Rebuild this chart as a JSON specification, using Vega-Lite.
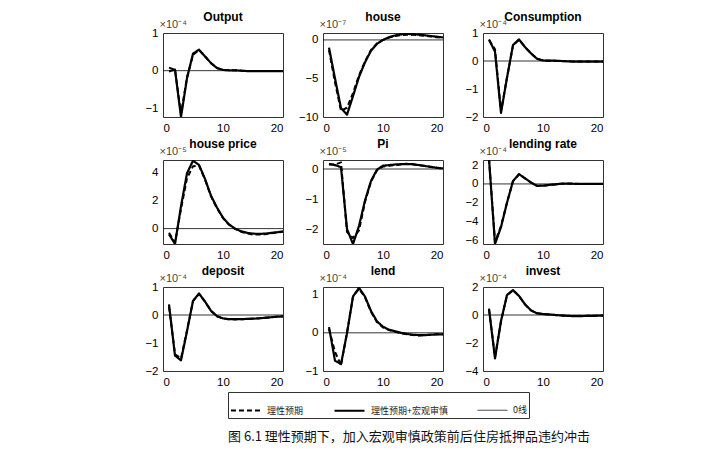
{
"$schema":"https://vega.github.io/schema/vega-lite/v6.json",
"padding":{"left":144,"top":10,"right":5,"bottom":5},
"background":"white",
"title":{"text":"图 6.1  理性预期下，加入宏观审慎政策前后住房抵押品违约冲击","orient":"bottom","anchor":"middle","font":"Noto Sans CJK SC","fontSize":13,"fontWeight":"normal","color":"#111","offset":12,"dx":35},
"data":{"values":[
{"p":"Output","t":0,"z":0},
{"p":"Output","t":1,"a":0.08,"b":-0.02},{"p":"Output","t":2,"a":0.02,"b":0.03},{"p":"Output","t":3,"a":-1.15,"b":-1.23},{"p":"Output","t":4,"a":-0.18,"b":-0.2},{"p":"Output","t":5,"a":0.42,"b":0.45},{"p":"Output","t":6,"a":0.55,"b":0.56},{"p":"Output","t":7,"a":0.38,"b":0.38},{"p":"Output","t":8,"a":0.2,"b":0.2},{"p":"Output","t":9,"a":0.07,"b":0.07},{"p":"Output","t":10,"a":0.02,"b":0.02},{"p":"Output","t":11,"a":0.01,"b":0.01},{"p":"Output","t":12,"a":0.01,"b":0.01},{"p":"Output","t":13,"a":0,"b":0},{"p":"Output","t":14,"a":-0.01,"b":-0.01},{"p":"Output","t":15,"a":-0.01,"b":-0.01},{"p":"Output","t":16,"a":-0.01,"b":-0.01},{"p":"Output","t":17,"a":-0.01,"b":-0.01},{"p":"Output","t":18,"a":-0.01,"b":-0.01},{"p":"Output","t":19,"a":-0.01,"b":-0.01},{"p":"Output","t":20,"a":-0.01,"b":-0.01,"z":0},
{"p":"house","t":0,"z":0},
{"p":"house","t":1,"a":-1.3,"b":-1.0},{"p":"house","t":2,"a":-5.5,"b":-5.0},{"p":"house","t":3,"a":-9.2,"b":-8.85},{"p":"house","t":4,"a":-8.8,"b":-9.7},{"p":"house","t":5,"a":-6.9,"b":-7.3},{"p":"house","t":6,"a":-4.6,"b":-4.8},{"p":"house","t":7,"a":-2.8,"b":-2.9},{"p":"house","t":8,"a":-1.3,"b":-1.4},{"p":"house","t":9,"a":-0.45,"b":-0.5},{"p":"house","t":10,"a":0,"b":0},{"p":"house","t":11,"a":0.3,"b":0.35},{"p":"house","t":12,"a":0.5,"b":0.58},{"p":"house","t":13,"a":0.62,"b":0.72},{"p":"house","t":14,"a":0.68,"b":0.78},{"p":"house","t":15,"a":0.68,"b":0.75},{"p":"house","t":16,"a":0.62,"b":0.68},{"p":"house","t":17,"a":0.54,"b":0.6},{"p":"house","t":18,"a":0.45,"b":0.5},{"p":"house","t":19,"a":0.36,"b":0.42},{"p":"house","t":20,"a":0.27,"b":0.33,"z":0},
{"p":"Consumption","t":0,"z":0},
{"p":"Consumption","t":1,"a":0.75,"b":0.77},{"p":"Consumption","t":2,"a":0.42,"b":0.33},{"p":"Consumption","t":3,"a":-1.8,"b":-1.85},{"p":"Consumption","t":4,"a":-0.58,"b":-0.6},{"p":"Consumption","t":5,"a":0.55,"b":0.57},{"p":"Consumption","t":6,"a":0.76,"b":0.77},{"p":"Consumption","t":7,"a":0.5,"b":0.5},{"p":"Consumption","t":8,"a":0.27,"b":0.27},{"p":"Consumption","t":9,"a":0.08,"b":0.08},{"p":"Consumption","t":10,"a":0.02,"b":0.02},{"p":"Consumption","t":11,"a":0.01,"b":0.01},{"p":"Consumption","t":12,"a":0.01,"b":0.01},{"p":"Consumption","t":13,"a":0,"b":0},{"p":"Consumption","t":14,"a":-0.01,"b":-0.01},{"p":"Consumption","t":15,"a":-0.02,"b":-0.02},{"p":"Consumption","t":16,"a":-0.02,"b":-0.02},{"p":"Consumption","t":17,"a":-0.02,"b":-0.02},{"p":"Consumption","t":18,"a":-0.02,"b":-0.02},{"p":"Consumption","t":19,"a":-0.02,"b":-0.02},{"p":"Consumption","t":20,"a":-0.02,"b":-0.02,"z":0},
{"p":"house price","t":0,"z":0},
{"p":"house price","t":1,"a":-0.3,"b":-0.4},{"p":"house price","t":2,"a":-1.0,"b":-1.1},{"p":"house price","t":3,"a":1.4,"b":1.6},{"p":"house price","t":4,"a":3.6,"b":3.95},{"p":"house price","t":5,"a":4.45,"b":4.85},{"p":"house price","t":6,"a":4.5,"b":4.55},{"p":"house price","t":7,"a":3.5,"b":3.55},{"p":"house price","t":8,"a":2.3,"b":2.35},{"p":"house price","t":9,"a":1.45,"b":1.5},{"p":"house price","t":10,"a":0.75,"b":0.78},{"p":"house price","t":11,"a":0.28,"b":0.3},{"p":"house price","t":12,"a":-0.02,"b":0},{"p":"house price","t":13,"a":-0.22,"b":-0.19},{"p":"house price","t":14,"a":-0.35,"b":-0.3},{"p":"house price","t":15,"a":-0.42,"b":-0.36},{"p":"house price","t":16,"a":-0.43,"b":-0.38},{"p":"house price","t":17,"a":-0.4,"b":-0.36},{"p":"house price","t":18,"a":-0.34,"b":-0.31},{"p":"house price","t":19,"a":-0.28,"b":-0.26},{"p":"house price","t":20,"a":-0.22,"b":-0.2,"z":0},
{"p":"Pi","t":0,"z":0},
{"p":"Pi","t":1,"a":0.15,"b":0.17},{"p":"Pi","t":2,"a":0.15,"b":0.13},{"p":"Pi","t":3,"a":0.22,"b":0.06},{"p":"Pi","t":4,"a":-2.1,"b":-2.0},{"p":"Pi","t":5,"a":-2.3,"b":-2.5},{"p":"Pi","t":6,"a":-2.05,"b":-1.9},{"p":"Pi","t":7,"a":-1.1,"b":-1.05},{"p":"Pi","t":8,"a":-0.42,"b":-0.4},{"p":"Pi","t":9,"a":-0.04,"b":-0.02},{"p":"Pi","t":10,"a":0.08,"b":0.11},{"p":"Pi","t":11,"a":0.11,"b":0.13},{"p":"Pi","t":12,"a":0.13,"b":0.15},{"p":"Pi","t":13,"a":0.15,"b":0.16},{"p":"Pi","t":14,"a":0.16,"b":0.17},{"p":"Pi","t":15,"a":0.15,"b":0.16},{"p":"Pi","t":16,"a":0.13,"b":0.13},{"p":"Pi","t":17,"a":0.1,"b":0.1},{"p":"Pi","t":18,"a":0.07,"b":0.07},{"p":"Pi","t":19,"a":0.04,"b":0.04},{"p":"Pi","t":20,"a":0.02,"b":0.02,"z":0},
{"p":"lending rate","t":0,"z":0},
{"p":"lending rate","t":1,"a":2.7,"b":2.7},{"p":"lending rate","t":2,"a":-6.2,"b":-6.4},{"p":"lending rate","t":3,"a":-4.5,"b":-4.6},{"p":"lending rate","t":4,"a":-2.0,"b":-2.0},{"p":"lending rate","t":5,"a":0.3,"b":0.3},{"p":"lending rate","t":6,"a":1.0,"b":1.05},{"p":"lending rate","t":7,"a":0.6,"b":0.6},{"p":"lending rate","t":8,"a":0.15,"b":0.15},{"p":"lending rate","t":9,"a":-0.2,"b":-0.2},{"p":"lending rate","t":10,"a":-0.2,"b":-0.18},{"p":"lending rate","t":11,"a":-0.12,"b":-0.1},{"p":"lending rate","t":12,"a":-0.05,"b":-0.05},{"p":"lending rate","t":13,"a":0.02,"b":0.02},{"p":"lending rate","t":14,"a":0.04,"b":0.04},{"p":"lending rate","t":15,"a":0.02,"b":0.02},{"p":"lending rate","t":16,"a":0,"b":0},{"p":"lending rate","t":17,"a":0,"b":0},{"p":"lending rate","t":18,"a":0,"b":0},{"p":"lending rate","t":19,"a":0,"b":0},{"p":"lending rate","t":20,"a":0,"b":0,"z":0},
{"p":"deposit","t":0,"z":0},
{"p":"deposit","t":1,"a":0.3,"b":0.38},{"p":"deposit","t":2,"a":-1.4,"b":-1.45},{"p":"deposit","t":3,"a":-1.55,"b":-1.62},{"p":"deposit","t":4,"a":-0.55,"b":-0.58},{"p":"deposit","t":5,"a":0.5,"b":0.5},{"p":"deposit","t":6,"a":0.75,"b":0.77},{"p":"deposit","t":7,"a":0.48,"b":0.48},{"p":"deposit","t":8,"a":0.15,"b":0.15},{"p":"deposit","t":9,"a":-0.05,"b":-0.04},{"p":"deposit","t":10,"a":-0.13,"b":-0.12},{"p":"deposit","t":11,"a":-0.15,"b":-0.15},{"p":"deposit","t":12,"a":-0.16,"b":-0.15},{"p":"deposit","t":13,"a":-0.15,"b":-0.15},{"p":"deposit","t":14,"a":-0.14,"b":-0.14},{"p":"deposit","t":15,"a":-0.13,"b":-0.13},{"p":"deposit","t":16,"a":-0.12,"b":-0.12},{"p":"deposit","t":17,"a":-0.1,"b":-0.1},{"p":"deposit","t":18,"a":-0.08,"b":-0.08},{"p":"deposit","t":19,"a":-0.06,"b":-0.06},{"p":"deposit","t":20,"a":-0.05,"b":-0.05,"z":0},
{"p":"lend","t":0,"z":0},
{"p":"lend","t":1,"a":0.1,"b":0.15},{"p":"lend","t":2,"a":-0.5,"b":-0.73},{"p":"lend","t":3,"a":-0.85,"b":-0.82},{"p":"lend","t":4,"a":0,"b":-0.01},{"p":"lend","t":5,"a":0.95,"b":0.95},{"p":"lend","t":6,"a":1.15,"b":1.18},{"p":"lend","t":7,"a":0.93,"b":0.95},{"p":"lend","t":8,"a":0.55,"b":0.57},{"p":"lend","t":9,"a":0.28,"b":0.3},{"p":"lend","t":10,"a":0.14,"b":0.16},{"p":"lend","t":11,"a":0.07,"b":0.08},{"p":"lend","t":12,"a":0.03,"b":0.04},{"p":"lend","t":13,"a":-0.01,"b":0},{"p":"lend","t":14,"a":-0.04,"b":-0.03},{"p":"lend","t":15,"a":-0.06,"b":-0.05},{"p":"lend","t":16,"a":-0.07,"b":-0.06},{"p":"lend","t":17,"a":-0.06,"b":-0.06},{"p":"lend","t":18,"a":-0.05,"b":-0.05},{"p":"lend","t":19,"a":-0.04,"b":-0.04},{"p":"lend","t":20,"a":-0.04,"b":-0.04,"z":0},
{"p":"invest","t":0,"z":0},
{"p":"invest","t":1,"a":0.4,"b":0.45},{"p":"invest","t":2,"a":-3.0,"b":-3.1},{"p":"invest","t":3,"a":-0.45,"b":-0.43},{"p":"invest","t":4,"a":1.4,"b":1.43},{"p":"invest","t":5,"a":1.76,"b":1.78},{"p":"invest","t":6,"a":1.36,"b":1.36},{"p":"invest","t":7,"a":0.76,"b":0.76},{"p":"invest","t":8,"a":0.33,"b":0.33},{"p":"invest","t":9,"a":0.12,"b":0.12},{"p":"invest","t":10,"a":0.07,"b":0.07},{"p":"invest","t":11,"a":0.04,"b":0.04},{"p":"invest","t":12,"a":0,"b":0},{"p":"invest","t":13,"a":-0.03,"b":-0.03},{"p":"invest","t":14,"a":-0.06,"b":-0.06},{"p":"invest","t":15,"a":-0.08,"b":-0.08},{"p":"invest","t":16,"a":-0.08,"b":-0.08},{"p":"invest","t":17,"a":-0.07,"b":-0.07},{"p":"invest","t":18,"a":-0.06,"b":-0.06},{"p":"invest","t":19,"a":-0.05,"b":-0.05},{"p":"invest","t":20,"a":-0.04,"b":-0.04,"z":0}
]},
"transform":[{"fold":["a","b","z"],"as":["k","v"]},{"filter":"isValid(datum.v)"}],
"columns":3,
"bounds":"flush",
"spacing":{"row":43,"column":40},
"concat":[
{"width":120,"height":84,"title":"Output","transform":[{"filter":"datum.p=='Output'"}],"mark":{"type":"line","color":"black","clip":true},
"encoding":{"x":{"field":"t","type":"quantitative","scale":{"domain":[0,20],"nice":false},"axis":{"values":[0,10,20],"title":null}},
"y":{"field":"v","type":"quantitative","scale":{"domain":[-1.23,1],"nice":false,"zero":false},"axis":{"values":[-1,0,1],"title":"×10⁻⁴"}},
"strokeDash":{"field":"k","type":"ordinal","scale":{"type":"ordinal","domain":["a","b","z"],"range":[[5,3],[1,0],[1,0]]},"legend":{"title":null,"orient":"none","legendX":65,"legendY":359,"direction":"horizontal","symbolType":"stroke","symbolSize":900,"symbolStrokeColor":"black","labelFont":"Noto Sans CJK SC","labelFontSize":9,"labelColor":"#222","strokeColor":"#333","padding":2,"columnPadding":29,"labelOffset":5,"labelExpr":"datum.value=='a'?'理性预期':datum.value=='b'?'理性预期+宏观审慎':'0线'"}},
"strokeWidth":{"field":"k","type":"ordinal","scale":{"type":"ordinal","domain":["a","b","z"],"range":[2,2.2,0.8]},"legend":{"title":null,"orient":"none","legendX":65,"legendY":359,"direction":"horizontal","symbolType":"stroke","symbolSize":900,"symbolStrokeColor":"black","labelFont":"Noto Sans CJK SC","labelFontSize":9,"labelColor":"#222","strokeColor":"#333","padding":2,"columnPadding":29,"labelOffset":5,"labelExpr":"datum.value=='a'?'理性预期':datum.value=='b'?'理性预期+宏观审慎':'0线'"}}}},
{"width":120,"height":84,"title":"house","transform":[{"filter":"datum.p=='house'"}],"mark":{"type":"line","color":"black","clip":true},
"encoding":{"x":{"field":"t","type":"quantitative","scale":{"domain":[0,20],"nice":false},"axis":{"values":[0,10,20],"title":null}},
"y":{"field":"v","type":"quantitative","scale":{"domain":[-10,0.9],"nice":false,"zero":false},"axis":{"values":[-10,-5,0],"title":"×10⁻⁷"}},
"strokeDash":{"field":"k","type":"ordinal","scale":{"type":"ordinal","domain":["a","b","z"],"range":[[5,3],[1,0],[1,0]]}},
"strokeWidth":{"field":"k","type":"ordinal","scale":{"type":"ordinal","domain":["a","b","z"],"range":[2,2.2,0.8]}}}},
{"width":120,"height":84,"title":"Consumption","transform":[{"filter":"datum.p=='Consumption'"}],"mark":{"type":"line","color":"black","clip":true},
"encoding":{"x":{"field":"t","type":"quantitative","scale":{"domain":[0,20],"nice":false},"axis":{"values":[0,10,20],"title":null}},
"y":{"field":"v","type":"quantitative","scale":{"domain":[-2,1],"nice":false,"zero":false},"axis":{"values":[-2,-1,0,1],"title":"×10⁻⁴"}},
"strokeDash":{"field":"k","type":"ordinal","scale":{"type":"ordinal","domain":["a","b","z"],"range":[[5,3],[1,0],[1,0]]}},
"strokeWidth":{"field":"k","type":"ordinal","scale":{"type":"ordinal","domain":["a","b","z"],"range":[2,2.2,0.8]}}}},
{"width":120,"height":84,"title":"house price","transform":[{"filter":"datum.p=='house price'"}],"mark":{"type":"line","color":"black","clip":true},
"encoding":{"x":{"field":"t","type":"quantitative","scale":{"domain":[0,20],"nice":false},"axis":{"values":[0,10,20],"title":null}},
"y":{"field":"v","type":"quantitative","scale":{"domain":[-1.1,4.9],"nice":false,"zero":false},"axis":{"values":[0,2,4],"title":"×10⁻⁵"}},
"strokeDash":{"field":"k","type":"ordinal","scale":{"type":"ordinal","domain":["a","b","z"],"range":[[5,3],[1,0],[1,0]]}},
"strokeWidth":{"field":"k","type":"ordinal","scale":{"type":"ordinal","domain":["a","b","z"],"range":[2,2.2,0.8]}}}},
{"width":120,"height":84,"title":"Pi","transform":[{"filter":"datum.p=='Pi'"}],"mark":{"type":"line","color":"black","clip":true},
"encoding":{"x":{"field":"t","type":"quantitative","scale":{"domain":[0,20],"nice":false},"axis":{"values":[0,10,20],"title":null}},
"y":{"field":"v","type":"quantitative","scale":{"domain":[-2.5,0.3],"nice":false,"zero":false},"axis":{"values":[-2,-1,0],"title":"×10⁻⁵"}},
"strokeDash":{"field":"k","type":"ordinal","scale":{"type":"ordinal","domain":["a","b","z"],"range":[[5,3],[1,0],[1,0]]}},
"strokeWidth":{"field":"k","type":"ordinal","scale":{"type":"ordinal","domain":["a","b","z"],"range":[2,2.2,0.8]}}}},
{"width":120,"height":84,"title":"lending rate","transform":[{"filter":"datum.p=='lending rate'"}],"mark":{"type":"line","color":"black","clip":true},
"encoding":{"x":{"field":"t","type":"quantitative","scale":{"domain":[0,20],"nice":false},"axis":{"values":[0,10,20],"title":null}},
"y":{"field":"v","type":"quantitative","scale":{"domain":[-6.4,2.55],"nice":false,"zero":false},"axis":{"values":[-6,-4,-2,0,2],"title":"×10⁻⁴"}},
"strokeDash":{"field":"k","type":"ordinal","scale":{"type":"ordinal","domain":["a","b","z"],"range":[[5,3],[1,0],[1,0]]}},
"strokeWidth":{"field":"k","type":"ordinal","scale":{"type":"ordinal","domain":["a","b","z"],"range":[2,2.2,0.8]}}}},
{"width":120,"height":84,"title":"deposit","transform":[{"filter":"datum.p=='deposit'"}],"mark":{"type":"line","color":"black","clip":true},
"encoding":{"x":{"field":"t","type":"quantitative","scale":{"domain":[0,20],"nice":false},"axis":{"values":[0,10,20],"title":null}},
"y":{"field":"v","type":"quantitative","scale":{"domain":[-2,1],"nice":false,"zero":false},"axis":{"values":[-2,-1,0,1],"title":"×10⁻⁴"}},
"strokeDash":{"field":"k","type":"ordinal","scale":{"type":"ordinal","domain":["a","b","z"],"range":[[5,3],[1,0],[1,0]]}},
"strokeWidth":{"field":"k","type":"ordinal","scale":{"type":"ordinal","domain":["a","b","z"],"range":[2,2.2,0.8]}}}},
{"width":120,"height":84,"title":"lend","transform":[{"filter":"datum.p=='lend'"}],"mark":{"type":"line","color":"black","clip":true},
"encoding":{"x":{"field":"t","type":"quantitative","scale":{"domain":[0,20],"nice":false},"axis":{"values":[0,10,20],"title":null}},
"y":{"field":"v","type":"quantitative","scale":{"domain":[-1,1.2],"nice":false,"zero":false},"axis":{"values":[-1,0,1],"title":"×10⁻⁴"}},
"strokeDash":{"field":"k","type":"ordinal","scale":{"type":"ordinal","domain":["a","b","z"],"range":[[5,3],[1,0],[1,0]]}},
"strokeWidth":{"field":"k","type":"ordinal","scale":{"type":"ordinal","domain":["a","b","z"],"range":[2,2.2,0.8]}}}},
{"width":120,"height":84,"title":"invest","transform":[{"filter":"datum.p=='invest'"}],"mark":{"type":"line","color":"black","clip":true},
"encoding":{"x":{"field":"t","type":"quantitative","scale":{"domain":[0,20],"nice":false},"axis":{"values":[0,10,20],"title":null}},
"y":{"field":"v","type":"quantitative","scale":{"domain":[-4,2],"nice":false,"zero":false},"axis":{"values":[-4,-2,0,2],"title":"×10⁻⁴"}},
"strokeDash":{"field":"k","type":"ordinal","scale":{"type":"ordinal","domain":["a","b","z"],"range":[[5,3],[1,0],[1,0]]}},
"strokeWidth":{"field":"k","type":"ordinal","scale":{"type":"ordinal","domain":["a","b","z"],"range":[2,2.2,0.8]}}}}
],
"config":{
"font":"Liberation Sans",
"view":{"stroke":"#333","strokeWidth":1},
"title":{"font":"Liberation Sans","fontSize":12,"fontWeight":"bold","offset":-6,"color":"black"},
"axis":{"grid":false,"domain":false,"ticks":false,"labelFont":"Liberation Sans","labelFontSize":11.5,"labelColor":"black","labelPadding":5},
"axisY":{"titleAngle":0,"titleAlign":"left","titleBaseline":"alphabetic","titleX":-4,"titleY":-6,"titleFontWeight":"normal","titleFontSize":11,"titleColor":"#444","titleFont":"Liberation Sans"},
"line":{"strokeCap":"butt","strokeJoin":"round"}
}
}
